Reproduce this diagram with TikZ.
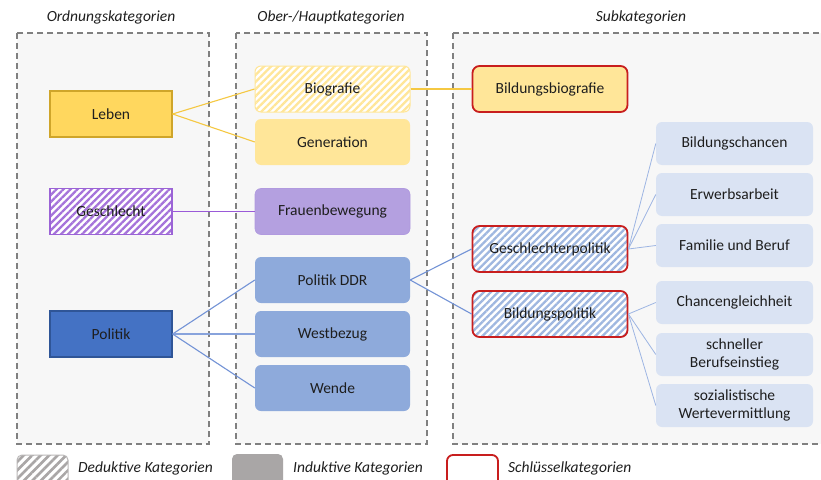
\documentclass[tikz,border=0pt]{standalone}
\usepackage{fontspec}
\setmainfont{Carlito}
\usetikzlibrary{patterns.meta}
\definecolor{txt}{HTML}{1E1E1E}
\definecolor{framebg}{HTML}{F7F7F7}
\definecolor{framedash}{HTML}{808080}
\definecolor{gold}{HTML}{FFD75E}
\definecolor{goldborder}{HTML}{CFA52A}
\definecolor{lightgold}{HTML}{FFE699}
\definecolor{goldline}{HTML}{F5C842}
\definecolor{purp}{HTML}{9B63D6}
\definecolor{purpline}{HTML}{9A5AD8}
\definecolor{lavender}{HTML}{B4A0E0}
\definecolor{darkblue}{HTML}{4472C4}
\definecolor{darkblueborder}{HTML}{2F5597}
\definecolor{midblue}{HTML}{8EAADB}
\definecolor{blueline}{HTML}{7393D6}
\definecolor{paleblue}{HTML}{DAE3F3}
\definecolor{palebluel}{HTML}{9DB5E3}
\definecolor{keyred}{HTML}{C81E1E}
\definecolor{legendgray}{HTML}{A9A6A6}
\begin{document}
\begin{tikzpicture}[x=1pt,y=-1pt,
  every node/.style={font=\fontsize{15.5}{18}\selectfont, text=txt, inner sep=0pt},
  frame/.style={draw=framedash, fill=framebg, dashed, dash pattern=on 6pt off 4pt, line width=1.3pt},
  header/.style={font=\fontsize{15.5}{18}\selectfont\itshape},
  ordbox/.style={minimum width=122pt, minimum height=46pt, line width=1.2pt},
  hauptbox/.style={minimum width=155pt, minimum height=46pt, rounded corners=6pt},
  keybox/.style={minimum width=155pt, minimum height=46pt, rounded corners=7pt, draw=keyred, line width=1.8pt},
  subbox/.style={minimum width=157pt, minimum height=43pt, rounded corners=6pt, fill=paleblue, align=center},
  hatch/.style={preaction={fill=white}, pattern={Lines[angle=45,distance=5pt,line width=2.3pt]}, pattern color=#1},
  conn/.style={line width=1.1pt}
]
\useasboundingbox (0,0) rectangle (821,479);
\fill[white] (0,0) rectangle (821,479);
% frames
\draw[frame] (17,33) rectangle (209,444);
\draw[frame] (236,33) rectangle (427,444);
\draw[frame] (453,33) rectangle (840,444);
% headers
\node[header] (h1) at (111,17) {Ordnungskategorien};
\node[header] (h2) at (331,17) {Ober-/Hauptkategorien};
\node[header] (h3) at (641,17) {Subkategorien};
% column 1
\node[ordbox, fill=gold, draw=goldborder] (leben) at (111,114) {Leben};
\node[ordbox, hatch=purp!90, draw=purp] (geschlecht) at (111,211.5) {Geschlecht};
\node[ordbox, fill=darkblue, draw=darkblueborder] (politik) at (111,334) {Politik};
% column 2
\node[hauptbox, hatch=lightgold, draw=lightgold, line width=1pt] (biografie) at (332.5,89) {Biografie};
\node[hauptbox, fill=lightgold] (generation) at (332.5,142) {Generation};
\node[hauptbox, fill=lavender, draw=lavender!90!purp, line width=0.6pt] (frauen) at (332.5,211.5) {Frauenbewegung};
\node[hauptbox, fill=midblue] (ddr) at (332.5,280) {Politik DDR};
\node[hauptbox, fill=midblue] (west) at (332.5,334) {Westbezug};
\node[hauptbox, fill=midblue] (wende) at (332.5,388) {Wende};
% column 3
\node[keybox, fill=lightgold] (bbio) at (550,89) {Bildungsbiografie};
\node[keybox, hatch=midblue!85] (gpol) at (550,249) {Geschlechterpolitik};
\node[keybox, hatch=midblue!85] (bpol) at (550,314) {Bildungspolitik};
% column 4
\node[subbox] (bch) at (734.5,143.5) {Bildungschancen};
\node[subbox] (erw) at (734.5,194.5) {Erwerbsarbeit};
\node[subbox] (fam) at (734.5,245.5) {Familie und Beruf};
\node[subbox] (chg) at (734.5,302.5) {Chancengleichheit};
\node[subbox] (sch) at (734.5,354.5) {schneller\\Berufseinstieg};
\node[subbox] (soz) at (734.5,405.5) {sozialistische\\Wertevermittlung};
% connectors
\draw[conn, draw=goldline] (leben.east) -- (biografie.west);
\draw[conn, draw=goldline] (leben.east) -- (generation.west);
\draw[conn, draw=goldline] (biografie.east) -- (bbio.west);
\draw[line width=1.5pt, draw=purpline] (geschlecht.east) -- (frauen.west);
\draw[conn, draw=blueline] (politik.east) -- (ddr.west);
\draw[line width=1.2pt, draw=blueline!85] (politik.east) -- (west.west);
\draw[conn, draw=blueline] (politik.east) -- (wende.west);
\draw[conn, draw=blueline] (ddr.east) -- (gpol.west);
\draw[conn, draw=blueline] (ddr.east) -- (bpol.west);
\draw[line width=0.8pt, draw=palebluel] (gpol.east) -- (bch.west);
\draw[line width=0.8pt, draw=palebluel] (gpol.east) -- (erw.west);
\draw[line width=0.8pt, draw=palebluel] (gpol.east) -- (fam.west);
\draw[line width=0.8pt, draw=palebluel] (bpol.east) -- (chg.west);
\draw[line width=0.8pt, draw=palebluel] (bpol.east) -- (sch.west);
\draw[line width=0.8pt, draw=palebluel] (bpol.east) -- (soz.west);
% legend
\draw[preaction={fill=white}, pattern={Lines[angle=45,distance=6pt,line width=2.6pt]}, pattern color=legendgray, draw=legendgray!80, line width=1pt, rounded corners=5pt] (17,455) rectangle (68,492);
\node[header, anchor=west] (l1) at (78,468) {Deduktive Kategorien};
\fill[legendgray, rounded corners=5pt] (232,454) rectangle (283,492);
\node[header, anchor=west] (l2) at (293,468) {Induktive Kategorien};
\draw[keyred, line width=1.8pt, fill=white, rounded corners=6pt] (447,455) rectangle (498,492);
\node[header, anchor=west] (l3) at (508,468) {Schlüsselkategorien};
\end{tikzpicture}
\end{document}
